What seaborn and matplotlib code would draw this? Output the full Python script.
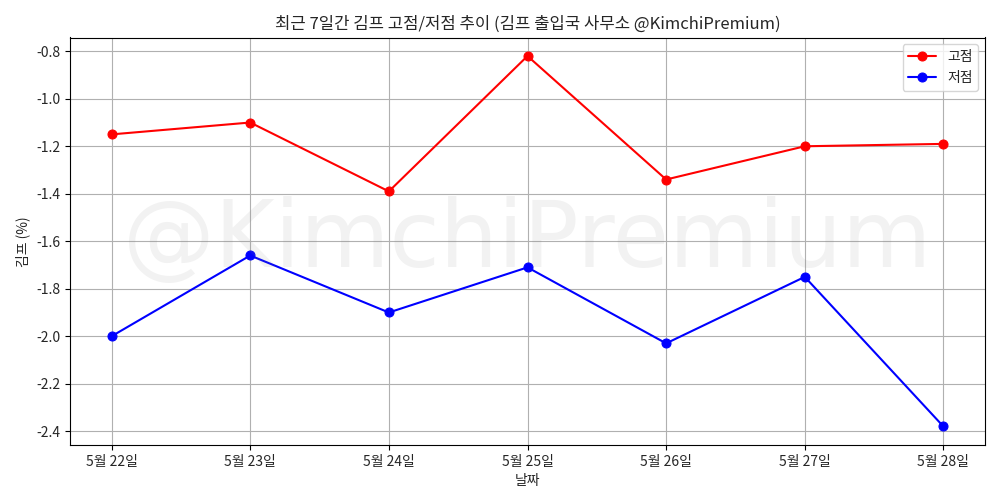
import matplotlib
matplotlib.use("Agg")
import matplotlib.pyplot as plt
import seaborn as sns
import pandas as pd

dates = ["5월 22일", "5월 23일", "5월 24일", "5월 25일", "5월 26일", "5월 27일", "5월 28일"]
high = [-1.15, -1.10, -1.39, -0.82, -1.34, -1.20, -1.19]
low = [-2.00, -1.66, -1.90, -1.71, -2.03, -1.75, -2.38]

sns.set_style("whitegrid")
plt.rcParams['font.family'] = ['Noto Sans CJK KR', 'DejaVu Sans']
plt.rcParams['axes.unicode_minus'] = False

fig, ax = plt.subplots(figsize=(10, 5), dpi=100)
df = pd.DataFrame({"date": dates, "high": high, "low": low})
sns.lineplot(data=df, x="date", y="high", ax=ax, color="red", marker="o", markersize=6.5,
             markeredgecolor="red", label="고점", sort=False)
sns.lineplot(data=df, x="date", y="low", ax=ax, color="blue", marker="o", markersize=6.5,
             markeredgecolor="blue", label="저점", sort=False)
ax.grid(True, color="#b0b0b0", linewidth=0.8)
for s in ax.spines.values():
    s.set_color("black"); s.set_linewidth(0.8)
ax.tick_params(left=True, bottom=True, length=3.5, width=0.8, color="black")
ax.set_title("최근 7일간 김프 고점/저점 추이 (김프 출입국 사무소 @KimchiPremium)", fontsize=12)
ax.set_xlabel("날짜")
ax.set_ylabel("김프 (%)")
ax.set_yticks([-2.4, -2.2, -2.0, -1.8, -1.6, -1.4, -1.2, -1.0, -0.8])
ax.text(0.5, 0.5, "@KimchiPremium", transform=ax.transAxes, fontsize=66, color="gray",
        alpha=0.1, ha="center", va="center", family=['DejaVu Sans'])
ax.legend(loc="upper right", frameon=True)
fig.subplots_adjust(left=0.07, right=0.985, top=0.925, bottom=0.11)
fig.savefig("out.png")
